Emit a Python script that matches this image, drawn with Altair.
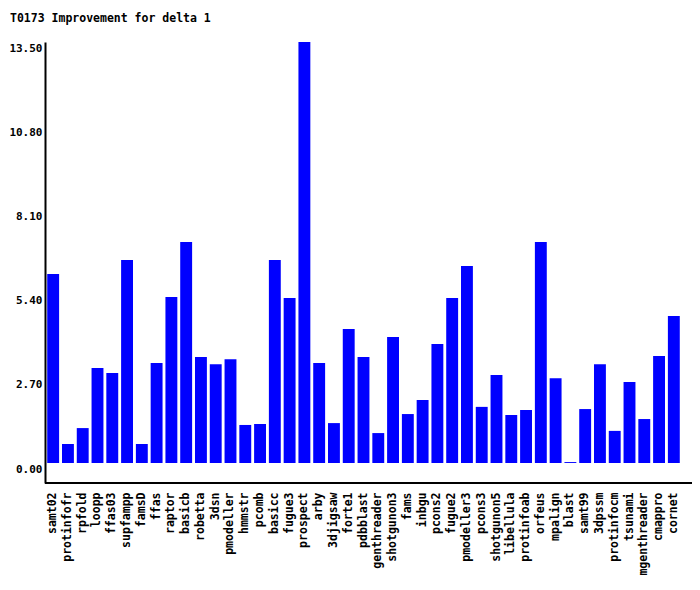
import altair as alt
import pandas as pd

methods = ["samt02", "protinfofr", "rpfold", "loopp", "ffas03", "supfampp", "famsD",
           "ffas", "raptor", "basicb", "robetta", "3dsn", "pmodeller", "hmmstr",
           "pcomb", "basicc", "fugue3", "prospect", "arby", "3djigsaw", "forte1",
           "pdbblast", "genthreader", "shotgunon3", "fams", "inbgu", "pcons2",
           "fugue2", "pmodeller3", "pcons3", "shotgunon5", "libellula", "protinfoab",
           "orfeus", "mpalign", "blast", "samt99", "3dpssm", "protinfocm", "tsunami",
           "mgenthreader", "cmappro", "cornet"]
values = [6.06, 0.61, 1.12, 3.05, 2.89, 6.51, 0.61,
          3.21, 5.32, 7.09, 3.40, 3.17, 3.33, 1.22,
          1.25, 6.51, 5.29, 13.50, 3.21, 1.28, 4.30,
          3.40, 0.96, 4.04, 1.57, 2.02, 3.82,
          5.29, 6.32, 1.80, 2.82, 1.54, 1.70,
          7.09, 2.72, 0.03, 1.73, 3.17, 1.03, 2.60,
          1.41, 3.43, 4.71]
y_ticks = [0.0, 2.7, 5.4, 8.1, 10.8, 13.5]

df = pd.DataFrame({"method": methods, "value": values})

FONT = "DejaVu Sans Mono"
W, H = 647, 441
PAD_L = 37

bars = alt.Chart(df).mark_bar(color="#0000FF").encode(
    x=alt.X("method:N", sort=methods,
            scale=alt.Scale(range=[0, 637], paddingInner=0.195, paddingOuter=0.15),
            axis=alt.Axis(title=None, labelAngle=270, ticks=False, domain=False,
                          labelPadding=9, labelFont=FONT, labelFontSize=11.5,
                          labelFontWeight="bold", labelColor="black")),
    y=alt.Y("value:Q",
            scale=alt.Scale(domain=[-0.641, 13.5], nice=False, zero=False),
            axis=alt.Axis(title=None, values=y_ticks, format=".2f", ticks=False,
                          grid=False, domainColor="black", domainWidth=2,
                          labelPadding=3, labelOffset=6, labelFont=FONT,
                          labelFontSize=11, labelFontWeight="bold",
                          labelColor="black")),
    y2=alt.datum(0),
)

xline = alt.Chart(df).mark_rule(color="black", strokeWidth=2).encode(
    x=alt.value(0), x2=alt.value(W), y=alt.value(H)
)

chart = alt.layer(bars, xline).properties(
    width=W, height=H,
    autosize=alt.AutoSizeParams(type="none"),
    padding={"left": PAD_L, "top": 34, "right": 0, "bottom": 100},
    title=alt.Title("T0173 Improvement for delta 1", anchor="start", frame="group",
                    dx=2 - PAD_L, offset=18, font=FONT, fontSize=11.5,
                    fontWeight="bold", color="black"),
).configure_view(stroke=None)

chart.save("out.html", embed_options={"renderer": "svg", "actions": False})
